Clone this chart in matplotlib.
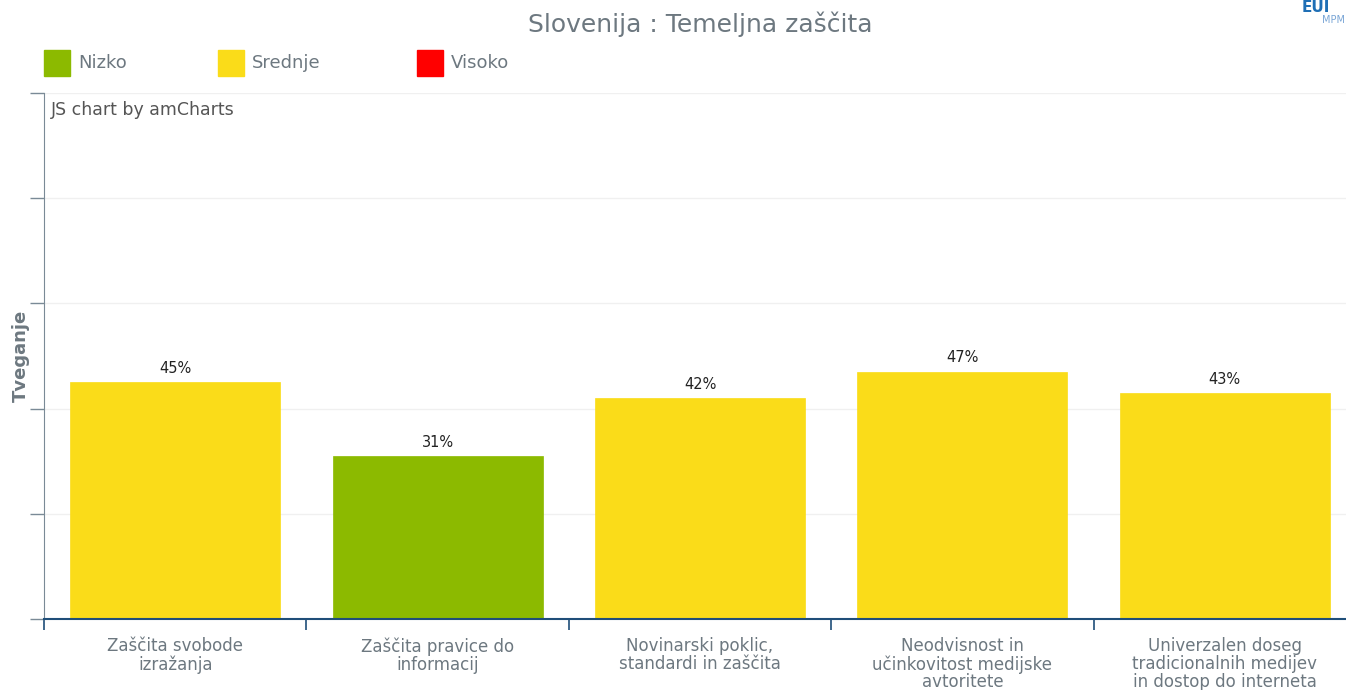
import matplotlib.pyplot as plt
from matplotlib.patches import Rectangle

categories = ['Zaščita svobode\nizražanja', 'Zaščita pravice do\ninformacij',
              'Novinarski poklic,\nstandardi in zaščita',
              'Neodvisnost in\nučinkovitost medijske\navtoritete',
              'Univerzalen doseg\ntradicionalnih medijev\nin dostop do interneta']
values = [45, 31, 42, 47, 43]
levels = ['Srednje', 'Nizko', 'Srednje', 'Srednje', 'Srednje']

legend_labels = ['Nizko', 'Srednje', 'Visoko']
level_colors = {'Nizko': '#8cba00', 'Srednje': '#fadc19', 'Visoko': '#ff0000'}

TEXT = '#6d7880'

fig = plt.figure(figsize=(13.46, 6.9), dpi=100)
fig.patch.set_facecolor('white')
ax = fig.add_axes([44 / 1346, 71 / 690, 1312 / 1346, 526 / 690])

x = range(len(values))
ax.bar(x, values, width=0.8, color=[level_colors[l] for l in levels],
       edgecolor=[level_colors[l] for l in levels], linewidth=0.5, zorder=2)
for i, v in enumerate(values):
    ax.text(i, v + 1.2, f'{v}%', ha='center', va='bottom', fontsize=10.5, color='#222222')

ax.set_xlim(-0.5, len(values) - 0.5)
ax.set_ylim(0, 100)
ax.set_yticks([0, 20, 40, 60, 80, 100])
ax.set_yticklabels([])
ax.grid(axis='y', color='#f0f0f0', linewidth=1, zorder=0)
ax.set_axisbelow(True)
ax.set_xticks([i - 0.5 for i in range(len(values) + 1)])
ax.set_xticklabels([])
ax.tick_params(axis='x', direction='out', length=8, color='#1f4e79', width=1.2)
ax.tick_params(axis='y', direction='out', length=10, color='#7a8a96', width=1)
for i, c in enumerate(categories):
    ax.text(i, -3.5, c, ha='center', va='top', fontsize=12, color=TEXT,
            linespacing=0.98)

ax.spines['top'].set_visible(False)
ax.spines['right'].set_visible(False)
ax.spines['left'].set_color('#7a8a96')
ax.spines['bottom'].set_color('#1f4e79')
ax.spines['bottom'].set_linewidth(1.5)

ax.set_ylabel('Tveganje', fontsize=13, fontweight='bold', color=TEXT)
ax.yaxis.set_label_coords(-0.011, 0.5)
ax.text(0.005, 0.985, 'JS chart by amCharts', transform=ax.transAxes,
        ha='left', va='top', fontsize=12.5, color='#555555')

fig.text(0.52, 0.965, 'Slovenija : Temeljna zaščita', ha='center', va='center',
         fontsize=18, color=TEXT)

# legend
leg_x = [44, 218, 417]
for lx, lab in zip(leg_x, legend_labels):
    fig.patches.append(Rectangle((lx / 1346, 1 - 76 / 690), 26 / 1346, 26 / 690,
                                 transform=fig.transFigure, color=level_colors[lab]))
    fig.text((lx + 34) / 1346, 1 - 63 / 690, lab, ha='left', va='center',
             fontsize=13, color=TEXT)

# logo
fig.text(0.988, 1.0, 'EUI', ha='right', va='top', fontsize=11, fontweight='bold',
         color='#1f6fb5')
fig.text(0.999, 0.978, 'MPM', ha='right', va='top', fontsize=7, color='#7aa6d6')

fig.savefig('out.png', dpi=100, facecolor='white')
